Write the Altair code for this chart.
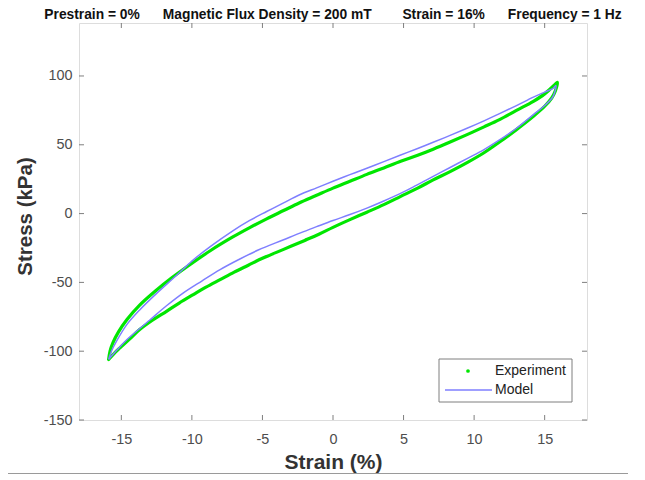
import altair as alt
import pandas as pd

# ---------------- data ----------------
# Experiment loop: loading branch (-16 -> +16) then unloading branch (+16 -> -16)
exp_strain = [-15.9, -15.5, -15.1, -14.4, -13.7, -12.8, -11.8, -10.9, -9.9, -9.0, -8.0, -7.0,
              -6.0, -5.0, -3.5, -2.0, -1.0, 0.0, 1.2, 2.4, 3.6, 4.8, 6.0, 7.1, 8.3, 9.5, 10.7,
              11.8, 13.0, 14.2, 15.0, 15.5, 15.75, 15.9,
              15.7, 15.0, 14.2, 13.0, 11.8, 10.7, 9.5, 8.3, 7.1, 6.0, 4.8, 3.6, 2.4, 1.2, 0.0,
              -1.2, -2.4, -3.5, -4.7, -5.9, -7.1, -8.7, -10.4, -11.4, -12.5, -13.7, -14.6,
              -15.2, -15.6, -15.8, -15.9]
exp_stress = [-106.0, -101.5, -97.6, -91.0, -84.3, -77.5, -71.0, -65.0, -58.9, -53.5, -48.0, -42.5,
              -37.5, -32.5, -26.0, -19.5, -15.0, -10.0, -4.4, 1.0, 6.5, 12.5, 18.5, 24.5, 30.5, 37.0, 44.2,
              52.0, 61.0, 70.7, 78.0, 84.0, 89.0, 95.4,
              93.5, 87.0, 81.6, 75.0, 68.3, 63.0, 57.4, 52.0, 46.8, 42.4, 38.0, 33.2, 28.5, 23.5, 18.5,
              13.1, 7.7, 2.2, -3.8, -10.2, -17.0, -27.0, -39.0, -46.5, -55.5, -66.5, -77.0,
              -86.0, -94.0, -100.0, -106.0]

# Model loop
model_strain = [-15.9, -15.3, -14.6, -13.0, -11.8, -10.6, -9.3, -8.0, -6.6, -5.3, -3.5, -2.3,
                -1.16, 0.0, 1.2, 2.4, 3.56, 4.75, 5.9, 7.1, 8.3, 9.5, 10.7, 11.8, 13.0, 14.2,
                15.0, 15.6, 15.8,
                15.6, 15.0, 14.2, 13.0, 11.8, 10.7, 9.5, 8.3, 7.1, 6.0, 4.75, 3.56, 2.4, 1.2, 0.0,
                -1.16, -2.4, -3.5, -4.7, -5.9, -7.1, -8.7, -10.0, -11.1, -12.5, -13.7, -14.6,
                -15.3, -15.7, -15.9]
model_stress = [-106.0, -99.0, -91.5, -77.5, -67.0, -57.6, -49.0, -40.7, -33.0, -26.5, -19.0, -14.0,
                -9.5, -5.0, -0.7, 4.0, 9.0, 14.5, 20.5, 27.0, 33.5, 40.0, 46.5, 53.5, 62.0, 71.9,
                78.5, 85.2, 93.0,
                91.0, 88.3, 84.6, 78.5, 72.6, 67.4, 62.0, 56.8, 51.8, 47.3, 42.4, 37.6, 33.0, 28.3, 23.5,
                18.7, 13.5, 7.8, 1.5, -5.0, -12.5, -24.0, -34.5, -45.0, -58.0, -70.0, -80.5,
                -92.0, -100.0, -106.0]

x_ticks = [-15, -10, -5, 0, 5, 10, 15]
y_ticks = [-150, -100, -50, 0, 50, 100]
x_limits = [-18, 18]
y_limits = [-150, 138.5]
series_names = ["Experiment", "Model"]
title_parts = ["Prestrain = 0%", "Magnetic Flux Density = 200 mT", "Strain = 16%", "Frequency = 1 Hz"]

# ---------------- styling ----------------
W, H = 508, 397
FONT = "Liberation Sans"
BOX = "#7f7f7f"
GREEN = "#00e600"
BLUE = "#7f7fff"
NB = "\u00a0"

title_text = (title_parts[0] + NB * 6 + title_parts[1] + NB * 8 +
              title_parts[2] + NB * 6 + title_parts[3])

xscale = alt.Scale(domain=x_limits, nice=False, zero=False)
yscale = alt.Scale(domain=y_limits, nice=False, zero=False)

xaxis = alt.Axis(values=x_ticks, ticks=False, domain=False, grid=False,
                 labelFont=FONT, labelFontSize=14.4, labelColor="#4d4d4d",
                 labelPadding=12, labelFlush=False, labelExpr="'' + datum.value",
                 titleFont=FONT, titleFontSize=21, titleFontWeight="bold", titleColor="#333333",
                 titleX=W / 2, titleY=48, titleBaseline="alphabetic", titleAlign="center")
yaxis = alt.Axis(values=y_ticks, ticks=False, domain=False, grid=False,
                 labelFont=FONT, labelFontSize=14.4, labelColor="#4d4d4d",
                 labelPadding=7, labelFlush=False, labelExpr="'' + datum.value",
                 titleFont=FONT, titleFontSize=20.5, titleFontWeight="bold", titleColor="#333333",
                 titleAngle=270, titleX=-48, titleY=193, titleBaseline="alphabetic",
                 titleAlign="center")


def X(field):
    return alt.X(f"{field}:Q", scale=xscale, axis=xaxis, title="Strain (%)")


def Y(field):
    return alt.Y(f"{field}:Q", scale=yscale, axis=yaxis, title="Stress (kPa)")


exp_df = pd.DataFrame({"strain": exp_strain, "stress": exp_stress,
                       "i": list(range(len(exp_strain)))})
model_df = pd.DataFrame({"strain": model_strain, "stress": model_stress,
                         "i": list(range(len(model_strain)))})

exp_layer = alt.Chart(exp_df).mark_line(
    color=GREEN, strokeWidth=3.2, strokeJoin="round", strokeCap="round",
    interpolate="catmull-rom"
).encode(x=X("strain"), y=Y("stress"), order="i:Q")

model_layer = alt.Chart(model_df).mark_line(
    color=BLUE, strokeWidth=1.5, strokeJoin="round", interpolate="catmull-rom"
).encode(x=X("strain"), y=Y("stress"), order="i:Q")

# inward tick marks on all four sides (MATLAB box style)
xt_df = pd.DataFrame({"v": x_ticks})
yt_df = pd.DataFrame({"v": y_ticks})
xt_bottom = alt.Chart(xt_df).mark_rule(color=BOX, strokeWidth=1).encode(
    x=X("v"), y=alt.value(H), y2=alt.value(H - 5))
xt_top = alt.Chart(xt_df).mark_rule(color=BOX, strokeWidth=1).encode(
    x=X("v"), y=alt.value(0), y2=alt.value(5))
yt_left = alt.Chart(yt_df).mark_rule(color=BOX, strokeWidth=1).encode(
    y=Y("v"), x=alt.value(0), x2=alt.value(5))
yt_right = alt.Chart(yt_df).mark_rule(color=BOX, strokeWidth=1).encode(
    y=Y("v"), x=alt.value(W - 5), x2=alt.value(W))

# legend (MATLAB style box in the lower right)
one = pd.DataFrame({"k": [0]})
leg_box = alt.Chart(one).mark_rect(fill="white", stroke=BOX, strokeWidth=1).encode(
    x=alt.value(360), x2=alt.value(493), y=alt.value(336), y2=alt.value(379))
leg_dot = alt.Chart(one).mark_circle(color=GREEN, size=14, opacity=1).encode(
    x=alt.value(389), y=alt.value(348))
leg_line = alt.Chart(one).mark_rule(color=BLUE, strokeWidth=1.5).encode(
    x=alt.value(366), x2=alt.value(413), y=alt.value(367))
leg_t1 = alt.Chart(one).mark_text(font=FONT, fontSize=14, align="left", baseline="middle",
                                  color="#222222").encode(
    x=alt.value(416), y=alt.value(348), text=alt.value(series_names[0]))
leg_t2 = alt.Chart(one).mark_text(font=FONT, fontSize=14, align="left", baseline="middle",
                                  color="#222222").encode(
    x=alt.value(416), y=alt.value(367), text=alt.value(series_names[1]))

# chart title (one line above the box)
title_layer = alt.Chart(one).mark_text(font=FONT, fontSize=13.8, fontWeight="bold",
                                       align="center", baseline="alphabetic",
                                       color="#111111").encode(
    x=alt.value(W / 2), y=alt.value(-4.5), text=alt.value(title_text))

# thin page rule under the figure (part of the reference image)
page_rule = alt.Chart(one).mark_rule(color="#9a9a9a", strokeWidth=1).encode(
    x=alt.value(-79), x2=alt.value(549), y=alt.value(450.5))

chart = alt.layer(
    exp_layer, model_layer, xt_bottom, xt_top, yt_left, yt_right,
    leg_box, leg_dot, leg_line, leg_t1, leg_t2, title_layer, page_rule
).properties(
    width=W, height=H,
    padding={"left": 71, "top": 15, "right": 41, "bottom": 54},
    autosize=alt.AutoSizeParams(type="none"),
).configure_view(stroke=BOX, strokeWidth=1).configure(background="white")

chart.save("out.html", embed_options={"renderer": "svg", "actions": False})
